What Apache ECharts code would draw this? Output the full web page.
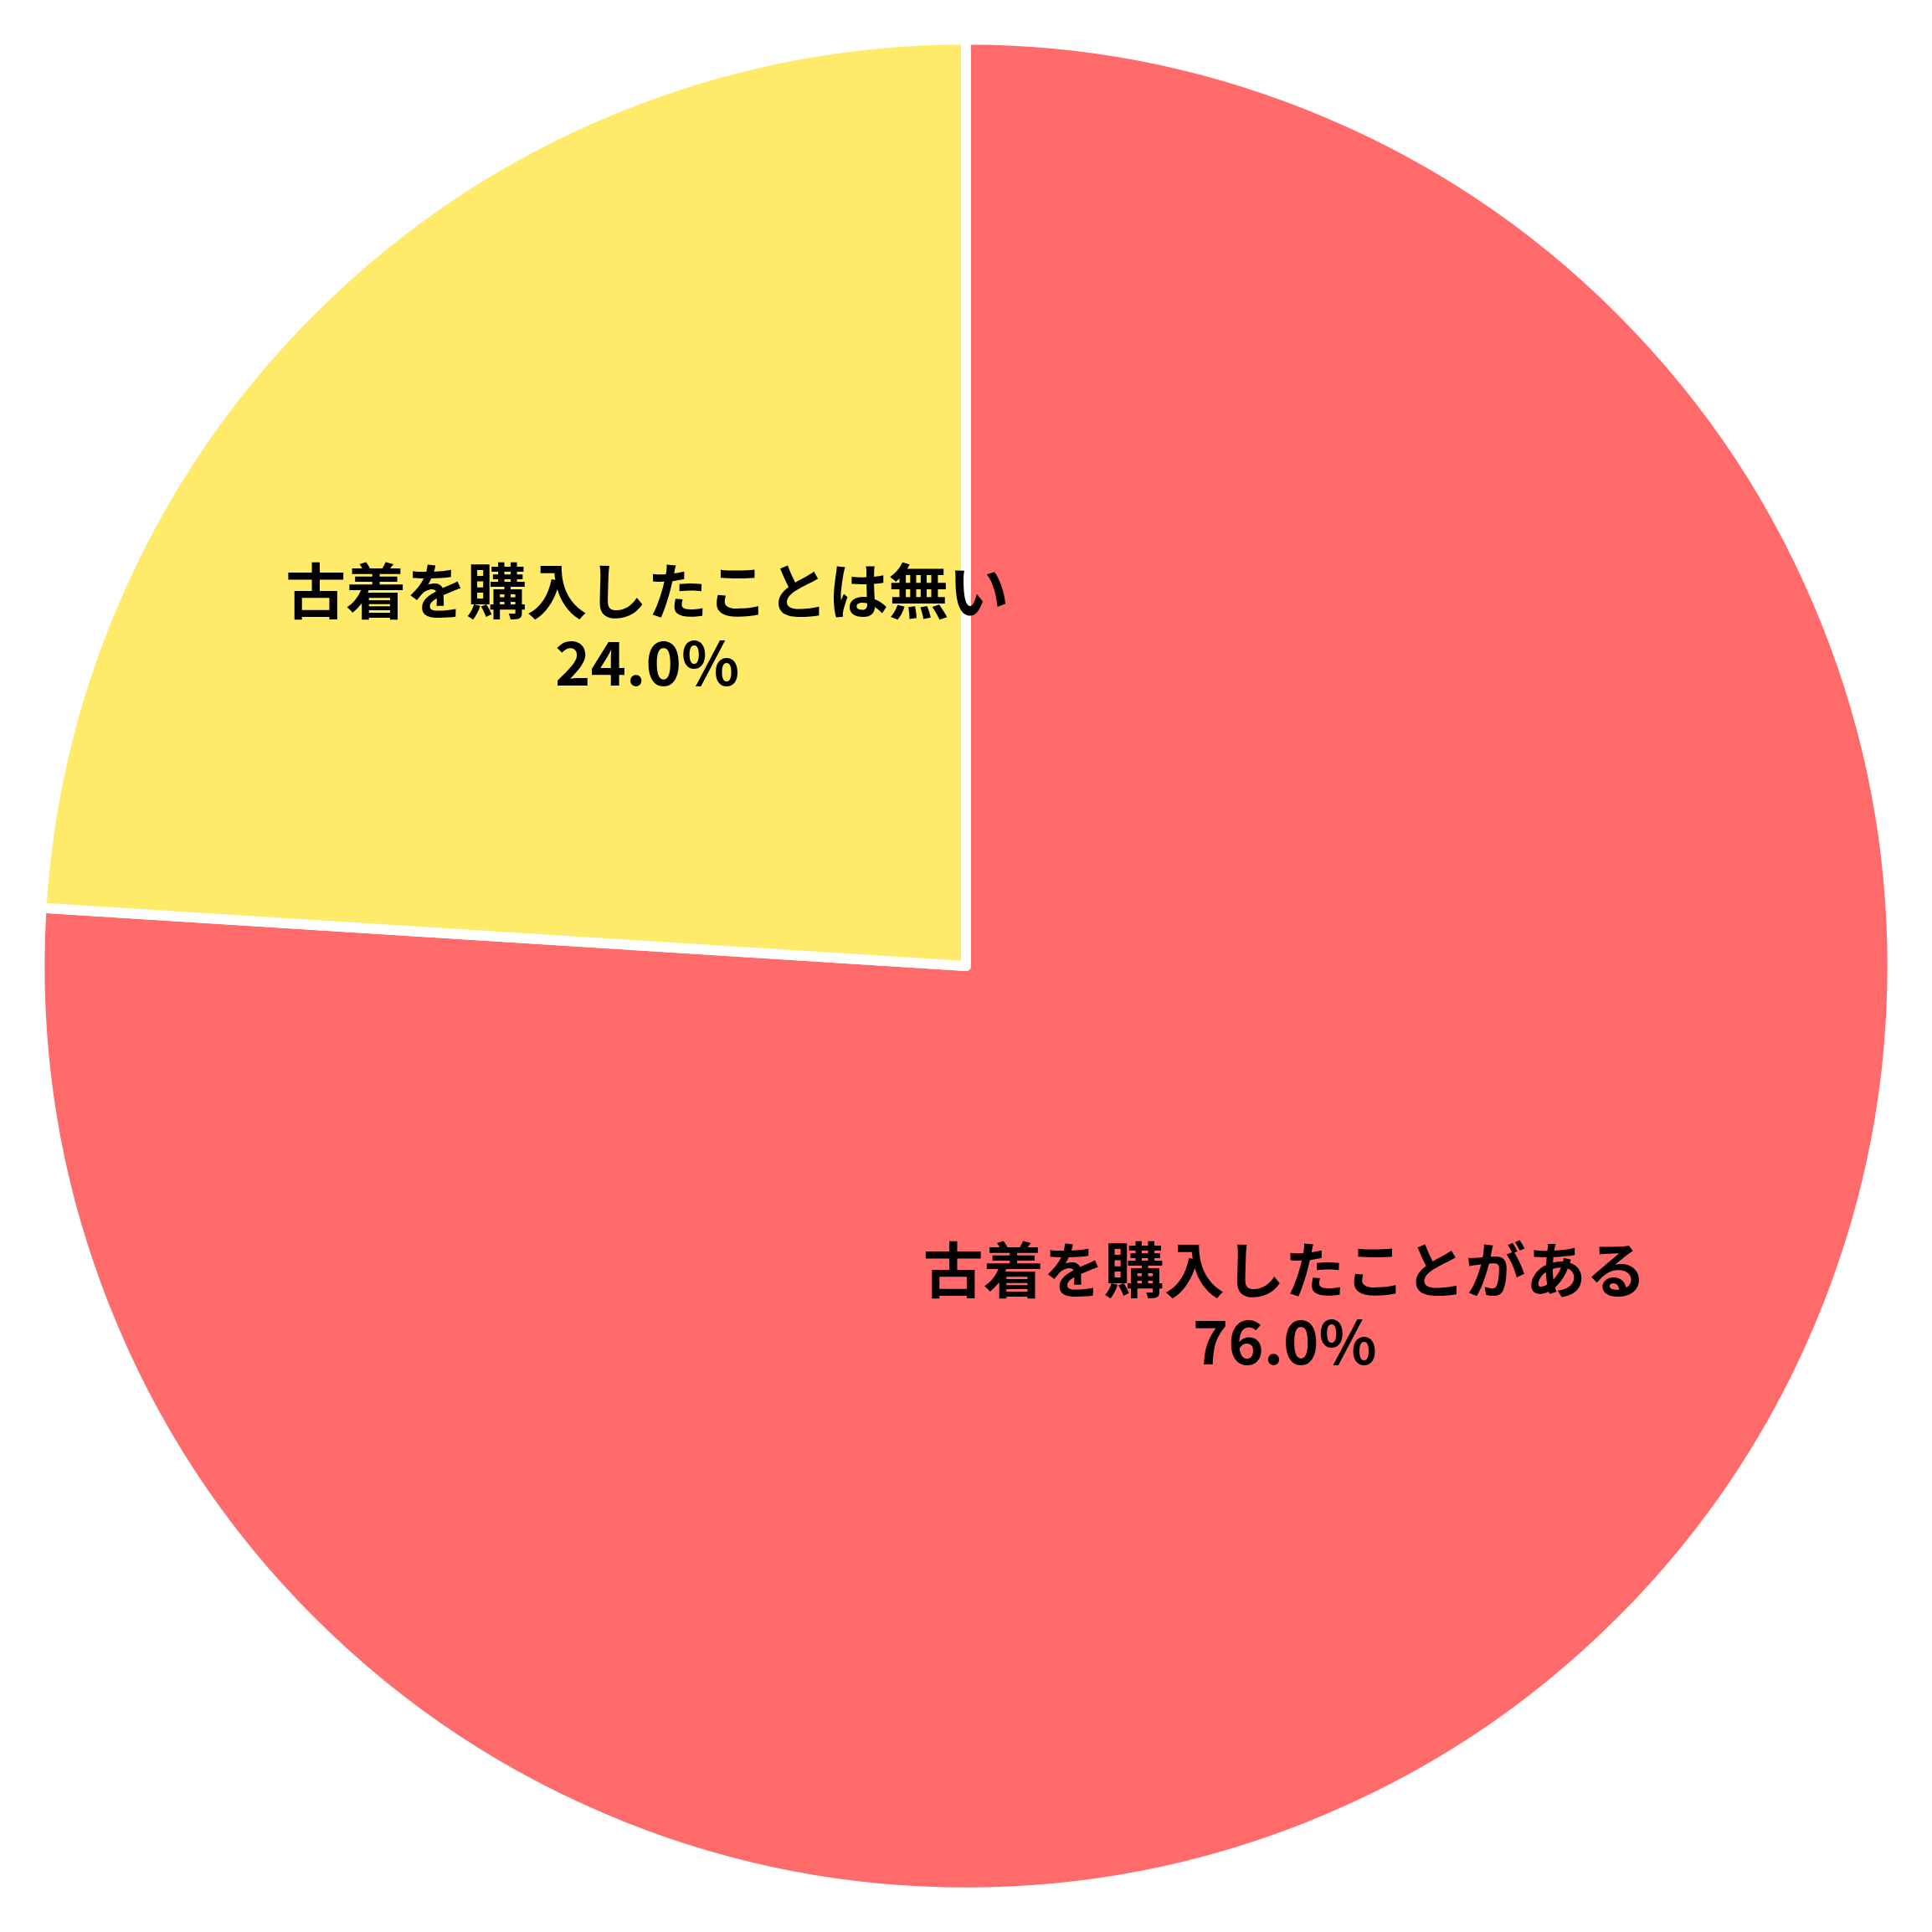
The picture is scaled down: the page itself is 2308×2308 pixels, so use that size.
<!DOCTYPE html>
<html>
<head>
<meta charset="utf-8">
<script src="https://cdn.jsdelivr.net/npm/echarts@6/dist/echarts.min.js"></script>
<style>
  html, body { margin: 0; padding: 0; background: #fff; }
  #chart { width: 2308px; height: 2308px; }
</style>
</head>
<body>
<div id="chart"></div>
<script>
  const categories = ['古着を購入したことがある', '古着を購入したことは無い'];
  const values = [76.0, 24.0];
  const colors = ['#FF6B6B', '#FFEA69'];

  const chart = echarts.init(document.getElementById('chart'));

  chart.setOption({
    backgroundColor: '#fff',
    animation: false,
    series: [
      {
        type: 'pie',
        center: ['50%', '50%'],
        radius: ['0%', '95.9%'],
        startAngle: 90,
        clockwise: true,
        data: categories.map((name, i) => ({
          name: name,
          value: values[i],
          itemStyle: { color: colors[i] }
        })),
        itemStyle: {
          borderColor: '#fff',
          borderWidth: 12
        },
        label: {
          show: true,
          position: 'inside',
          formatter: p => p.name + '\n' + p.value.toFixed(1) + '%',
          color: '#000',
          fontFamily: 'Noto Sans CJK JP',
          fontWeight: 'bold',
          fontSize: 72,
          lineHeight: 86,
          align: 'center'
        },
        labelLine: { show: false },
        emphasis: { disabled: true }
      }
    ]
  });
</script>
</body>
</html>
